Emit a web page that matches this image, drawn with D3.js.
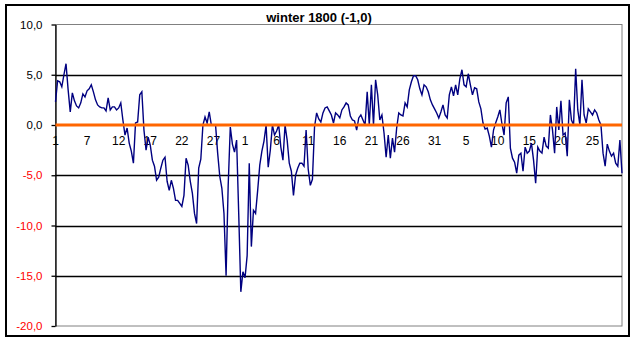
<!DOCTYPE html>
<html>
<head>
<meta charset="utf-8">
<script src="https://cdn.jsdelivr.net/npm/d3@7"></script>
<style>
  body { margin: 0; background: #fff; }
  svg { display: block; font-family: "Liberation Sans", Arial, sans-serif; }
</style>
</head>
<body>
<svg width="636" height="342"></svg>
<script>
"use strict"

// three readings a day, winter 1800
const decemberTemps = [
  2.3, 4.4, 4.3, 3.8, 5.0, 6.1, 3.5, 1.3, 3.2, 2.4, 1.9, 1.7, 2.2, 3.1, 2.8,
  3.4, 3.6, 4.0, 3.3, 2.5, 2.0, 1.8, 1.7, 1.7, 1.4, 2.7, 1.5, 1.8, 1.8, 1.5,
  1.7, 2.2, 0.5, -1.0, -0.3, -1.8, -2.6, -3.8, 0.2, 0.3, 3.0, 3.3, -0.5, -2.5, -1.2,
  -2.0, -3.5, -4.1, -5.5, -5.2, -4.3, -3.5, -3.2, -5.6, -6.5, -5.5, -6.3, -7.5, -7.5, -7.8,
  -8.1, -7.0, -3.3, -4.0, -5.6, -6.8, -8.8, -9.8, -4.3, -3.4, 0.0, 0.8, 0.2, 1.3, 0.0,
  0.0, 0.0, -2.8, -5.1, -6.3, -8.8, -15.0, -6.0, -0.2, -1.9, -2.7, -1.5, -8.8, -16.6, -14.6
]
const januaryTemps = [
  -15.2, -13.0, -3.8, -12.1, -8.5, -8.8, -6.5, -4.0, -2.6, -1.6, 0.0, -4.2, -2.5, 0.0, -1.0,
  -0.6, 0.0, -2.2, -3.5, 0.0, -1.5, -3.8, -4.6, -7.0, -5.0, -4.3, -3.8, -3.8, -4.1, -0.5,
  -4.4, -6.0, -5.4, -0.2, 1.2, 0.6, 0.3, 1.2, 1.7, 1.8, 1.4, 1.0, 0.2, 1.2, 1.0,
  0.7, 1.5, 1.8, 2.2, 2.0, 0.9, 0.5, 0.4, -0.5, 0.7, 1.0, 0.5, 0.0, 3.3, 0.0,
  4.0, 0.0, 4.5, 3.0, 0.5, 1.0, -0.8, -3.2, -1.0, -3.3, -1.3, -2.7, -0.3, 1.2, 1.0,
  0.9, 2.2, 1.8, 3.5, 4.3, 4.9, 4.9, 4.5, 3.6, 3.0, 4.0, 3.8, 3.3, 2.5, 2.0,
  1.6, 1.2, 0.7
]
const februaryTemps = [
  1.3, 2.0, 1.0, 0.7, 3.0, 3.8, 2.9, 4.0, 3.0, 4.6, 5.5, 4.0, 3.8, 5.1, 4.0,
  3.0, 3.7, 3.6, 2.3, 1.6, 0.2, -0.4, -0.3, -1.1, -2.2, -0.5, 0.2, 0.8, 1.5, 0.1,
  -1.0, 2.2, 2.8, -2.3, -3.3, -3.7, -4.8, -3.0, -2.8, -4.6, -2.2, -2.8, -2.6, -1.8, -3.5,
  -5.8, -2.2, -2.6, -2.8, -1.2, -2.1, -2.3, 1.0, -0.5, -2.8, 1.8, -0.5, 2.4, -1.0, -0.8,
  -3.1, 2.5, 0.5, 0.0, 5.6, 1.5, 0.0, 4.5, 1.0, 0.2, 1.6, 1.3, 1.0, 1.5, 1.2,
  0.5, 0.0, -2.8, -4.1, -1.9, -2.6, -3.1, -2.8, -3.8, -4.1, -1.5, -4.8
]
const dayLabels = ["1", "7", "12", "17", "22", "27", "1", "6", "11", "16", "21", "26", "31", "5", "10", "15", "20", "25"]
const labelEvery = 15
const yTicks = [10, 5, 0, -5, -10, -15, -20]
const title = "winter 1800 (-1,0)"

let temps = decemberTemps.concat(januaryTemps, februaryTemps)

let svg = d3.select("svg")

let margin = {left: 55.5, right: 622, top: 24.5, bottom: 326}

let x = d3.scaleLinear().domain([0, temps.length - 1]).range([margin.left, margin.right])
let y = d3.scaleLinear().domain([-20, 10]).range([margin.bottom, margin.top])

// outer chart border
svg.append("rect")
  .attr("x", 6).attr("y", 5)
  .attr("width", 623).attr("height", 331)
  .attr("fill", "#fff")
  .attr("stroke", "#000")
  .attr("stroke-width", 2)

// plot area border (grey)
svg.append("rect")
  .attr("x", margin.left).attr("y", margin.top)
  .attr("width", margin.right - margin.left)
  .attr("height", margin.bottom - margin.top)
  .attr("fill", "#fff")
  .attr("stroke", "#808080")
  .attr("stroke-width", 1)

// gridlines
svg.selectAll(".grid")
  .data(yTicks.filter(d => d !== 10 && d !== -20 && d !== 0))
  .enter().append("line")
    .attr("class", "grid")
    .attr("x1", margin.left).attr("x2", margin.right)
    .attr("y1", d => Math.round(y(d)) + 0.5)
    .attr("y2", d => Math.round(y(d)) + 0.5)
    .attr("stroke", "#000")
    .attr("stroke-width", 1.3)

// y axis
let yAxis = svg.append("g")
  .attr("transform", "translate(" + margin.left + ",0)")
  .call(d3.axisLeft(y)
    .tickValues(yTicks)
    .tickSizeInner(4)
    .tickSizeOuter(0)
    .tickPadding(9)
    .tickFormat(d => d.toFixed(1).replace(".", ",")))

yAxis.select(".domain").attr("stroke", "#000").attr("stroke-width", 1.3)
yAxis.selectAll(".tick line").attr("stroke", "#000").attr("stroke-width", 1.3)
yAxis.selectAll(".tick text")
  .attr("font-size", 11.5)
  .attr("font-family", "'Liberation Sans', Arial, sans-serif")
  .attr("fill", d => d < 0 ? "#ff0000" : "#000")

// category labels along the zero line
svg.selectAll(".daylabel")
  .data(dayLabels)
  .enter().append("text")
    .attr("class", "daylabel")
    .attr("x", (d, i) => x(i * labelEvery))
    .attr("y", 145)
    .attr("text-anchor", "middle")
    .attr("font-size", 12)
    .attr("fill", "#000")
    .text(d => d)

// temperature line
let line = d3.line()
  .x((d, i) => x(i))
  .y(d => y(d))

svg.append("path")
  .datum(temps)
  .attr("d", line)
  .attr("fill", "none")
  .attr("stroke", "#000080")
  .attr("stroke-width", 1.4)
  .attr("stroke-linejoin", "miter")

// zero line on top
svg.append("line")
  .attr("x1", margin.left).attr("x2", margin.right)
  .attr("y1", y(0)).attr("y2", y(0))
  .attr("stroke", "#ff6600")
  .attr("stroke-width", 3)

svg.append("text")
  .attr("x", 319)
  .attr("y", 21.5)
  .attr("text-anchor", "middle")
  .attr("font-size", 13)
  .attr("font-weight", "bold")
  .text(title)
</script>
</body>
</html>
